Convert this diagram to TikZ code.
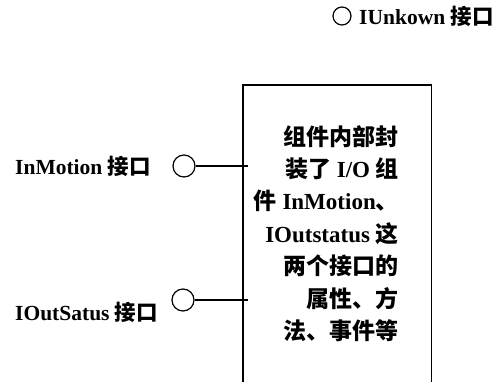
\documentclass[tikz,border=0pt]{standalone}
\usepackage{fontspec}
\setmainfont{Liberation Serif}
\newfontfamily\cjk{Noto Sans CJK SC}
\newcommand\zh[1]{{\cjk #1}}
\begin{document}
\begin{tikzpicture}[x=1pt,y=-1pt,
  port/.style={circle,draw,line width=1.2pt,minimum size=22pt,inner sep=0pt},
  lbl/.style={anchor=west,inner sep=0pt,font=\fontsize{21.5}{24}\selectfont\bfseries},
  conn/.style={line width=1.3pt}]
\useasboundingbox (0,0) rectangle (500,382);
% top-right legend
\node[port,minimum size=18pt] (uk) at (342,16) {};
\node[lbl] (ukl) at (359,16) {IUnkown \zh{接口}};
% component box (bottom runs off the page)
\node[minimum width=188pt,minimum height=320pt,inner sep=0pt,anchor=north west] (box) at (243,85) {};
\draw[conn] (box.south west) |- (box.north east) -- (box.south east);
\node[anchor=north east,align=right,inner sep=0pt,
  font=\fontsize{23}{32.4}\selectfont\bfseries] (txt) at (399,125)
  {\zh{组件内部封}\\ \zh{装了} I/O \zh{组}\\ \zh{件} InMotion\zh{、}\\ IOutstatus \zh{这}\\ \zh{两个接口的}\\ \zh{属性、方}\\ \zh{法、事件等}};
% ports
\node[port] (p1) at (184,166) {};
\node[port] (p2) at (183,300) {};
\node[lbl] (l1) at (15,166) {InMotion \zh{接口}};
\node[lbl] (l2) at (15,312) {IOutSatus \zh{接口}};
\coordinate (t1) at ([xshift=5pt]box.west |- p1);
\coordinate (t2) at ([xshift=5pt]box.west |- p2);
\draw[conn] (p1.east) -- (t1);
\draw[conn] (p2.east) -- (t2);
\end{tikzpicture}
\end{document}
